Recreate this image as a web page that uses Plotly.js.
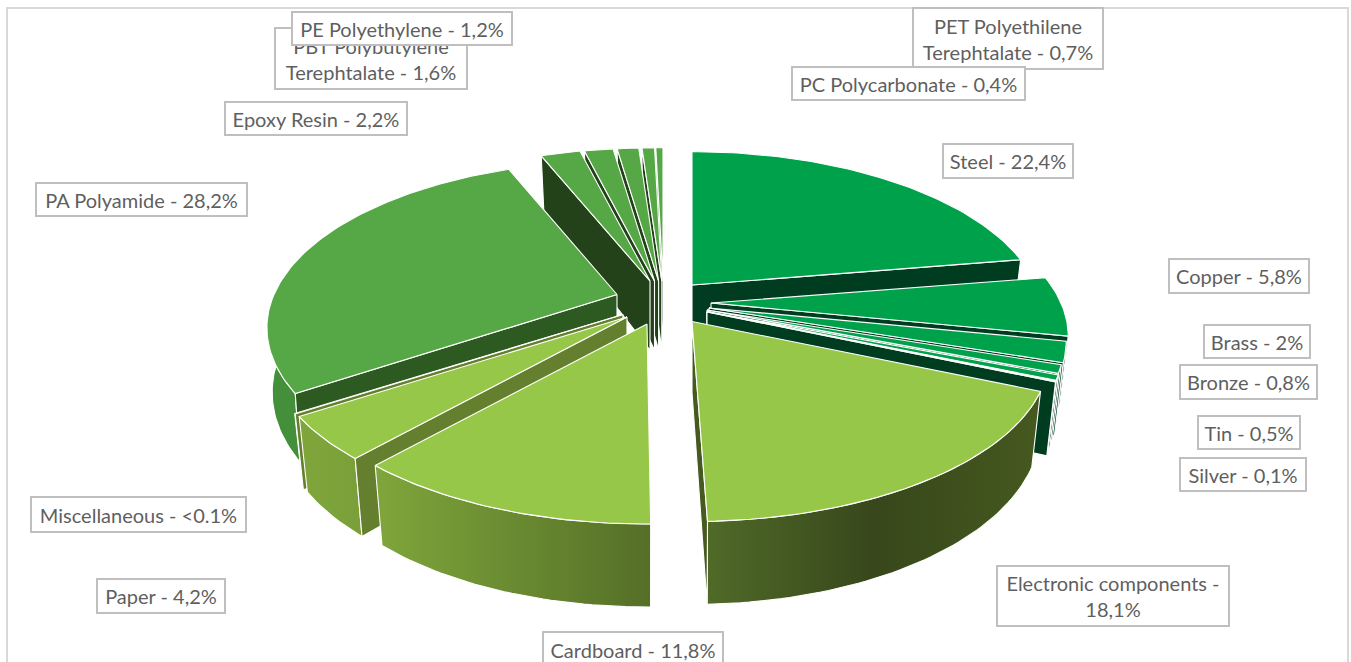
<!DOCTYPE html>
<html><head><meta charset="utf-8">
<script src="https://cdn.plot.ly/plotly-3.0.1.min.js"></script>
<style>html,body{margin:0;padding:0;background:#fff}#chart{width:1351px;height:662px}</style>
</head><body><div id="chart"></div>
<script>
// ---- data ----
const categories = ["Steel","Copper","Brass","Bronze","Tin","Silver","Electronic components","Cardboard","Paper","Miscellaneous","PA Polyamide","Epoxy Resin","PBT Polybutylene Terephtalate","PE Polyethylene","PET Polyethilene Terephtalate","PC Polycarbonate"];
const values = [22.4,5.8,2,0.8,0.5,0.1,18.1,11.8,4.2,0.05,28.2,2.2,1.6,1.2,0.7,0.4];
const labelTexts = ["Steel - 22,4%","Copper - 5,8%","Brass - 2%","Bronze - 0,8%","Tin - 0,5%","Silver - 0,1%","Electronic components -<br>18,1%","Cardboard - 11,8%","Paper - 4,2%","Miscellaneous - <0.1%","PA Polyamide - 28,2%","Epoxy Resin - 2,2%","PBT Polybutylene<br>Terephtalate - 1,6%","PE Polyethylene - 1,2%","PET Polyethilene<br>Terephtalate - 0,7%","PC Polycarbonate - 0,4%"];

// ---- style / layout ----
const apexX = [692,711,709,707,707,707,692,647,627,623,617,650,654.5,658.6,661.8,663];
const apexY = [285,303,308,310,311.5,312,321.5,324,317,314.5,294.5,281,281,281,281,281];
const radiusX = [344,350,350,350,350,350,350,350,350,350,343,345,345,345,345,345];
const wallBase = [69,69,69,69,69,69,71,71,69,69,62,69,69,69,69,69];
const wallShrink = [.975,.975,.975,.975,.975,.975,.975,.975,.975,.975,.985,.975,.975,.975,.975,.975];
const gapStart = [0,0,0,0,0,0,0,.012,0,0,0,0,0,0,0,0];
const gapEnd = [0,0,0,0,0,0,.015,0,0,0,0,0,0,0,0,0];
const G="#00A14B",GD="#003D20",L="#97C749",M="#55A845";
const topColor = [G,G,G,G,G,G,L,L,L,L,M,M,M,M,M,M];
const cutColor = [GD,GD,GD,GD,GD,GD,"#46591f","#556f27","#647F2D","#647F2D","#2C5A20","#234219","#234219","#234219","#234219","#234219"];
const wallStops = [null,[GD,GD],[GD,GD],[GD,GD],[GD,GD],[GD,GD],["#506a28","#37471b","#46591f"],["#7FA63B","#556f27"],["#7FA63B","#7A9F39"],["#7FA63B","#7FA63B"],["#44903A","#44903A"],null,null,null,null,null];
const drawOrder = [15,14,13,12,11,10,0,1,2,3,4,5,9,8,6,7];
const boxes = [[943,144,1073,178],[1169,259,1309,293],[1204,325,1310,358],[1180,365,1317,399],[1198,416,1300,449],[1180,458,1306,491],[997,566,1229,626],[543,632,723,668],[97,579,225,613],[31,497,246,532],[36,183,247,216],[225,102,407,135],[275,28,467,89],[292,12,512,45],[913,8,1103,69],[792,67,1025,100]];
const labelOrder = [0,1,2,3,4,5,6,7,8,9,10,11,12,13,14,15];

const Ry=160,k=0.2;
const total = values.reduce((a,b)=>a+b,0);
const rad = v=>v/total*2*Math.PI;
const starts=[]; values.reduce((acc,v,i)=>{starts[i]=acc;return acc+rad(v)},0);

function pt(i,th,r,bottom){
  const w=1+k*r*Math.cos(th);
  const dx=r*radiusX[i]*Math.sin(th)/w, dy=-r*Ry*Math.cos(th)/w;
  const h=wallBase[i]-12*r*Math.cos(th);
  return bottom?[apexX[i]+dx*wallShrink[i],apexY[i]+dy+h]:[apexX[i]+dx,apexY[i]+dy];
}
function poly(pts,color,grad){
  const t={type:"scatter",mode:"lines",x:pts.map(p=>p[0]),y:pts.map(p=>p[1]),fill:"toself",
    line:{color:"#ffffff",width:1.1},hoverinfo:"skip",showlegend:false};
  if(grad){t.fillgradient={type:"horizontal",colorscale:grad.map((c,j)=>[j/(grad.length-1),c])};}
  else t.fillcolor=color;
  return t;
}
const traces=[];
drawOrder.forEach(i=>{
  const a=starts[i]+gapStart[i],b=starts[i]+rad(values[i])-gapEnd[i];
  const n=Math.max(4,Math.ceil((b-a)/0.02));
  const arc=[];for(let j=0;j<=n;j++)arc.push(a+(b-a)*j/n);
  // outer wall
  if(wallStops[i]){
    const p=arc.map(t=>pt(i,t,1,false)).concat(arc.slice().reverse().map(t=>pt(i,t,1,true)));
    p.push(p[0]);
    traces.push(poly(p,null,wallStops[i]));
  }
  // cut faces
  [[a,Math.sin(a)<-1e-6],[b,Math.sin(b)>1e-6]].forEach(([t,vis])=>{
    if(!vis)return;
    const p=[pt(i,t,0,false),pt(i,t,1,false),pt(i,t,1,true),pt(i,t,0,true)];p.push(p[0]);
    traces.push(poly(p,cutColor[i]));
  });
  // top
  const p=[pt(i,a,0,false)].concat(arc.map(t=>pt(i,t,1,false)));p.push(p[0]);
  traces.push(poly(p,topColor[i]));
});
const annotations=labelOrder.map(i=>{
  const [x0,y0,x1,y1]=boxes[i];
  return {x:(x0+x1)/2,y:(y0+y1)/2,xref:"x",yref:"y",text:labelTexts[i],showarrow:false,
    xanchor:"center",yanchor:"middle",align:"center",valign:"middle",
    width:x1-x0-2,height:y1-y0-2,bgcolor:"#ffffff",bordercolor:"#BFBFBF",borderwidth:2,borderpad:0,
    font:{family:"Lato, sans-serif",size:20,color:"#5F5F5F"}};
});
const layout={width:1351,height:662,margin:{l:0,r:0,t:0,b:0},paper_bgcolor:"#fff",plot_bgcolor:"#fff",showlegend:false,
  xaxis:{range:[0,1351],visible:false,fixedrange:true},
  yaxis:{range:[662,0],visible:false,fixedrange:true},
  annotations,
  shapes:[{type:"path",xref:"x",yref:"y",path:"M7,670 L7,8 L1348,8 L1348,670",line:{color:"#D9D9D9",width:2},layer:"below"}]};
Plotly.newPlot("chart",traces,layout,{displayModeBar:false,staticPlot:true});
</script></body></html>
